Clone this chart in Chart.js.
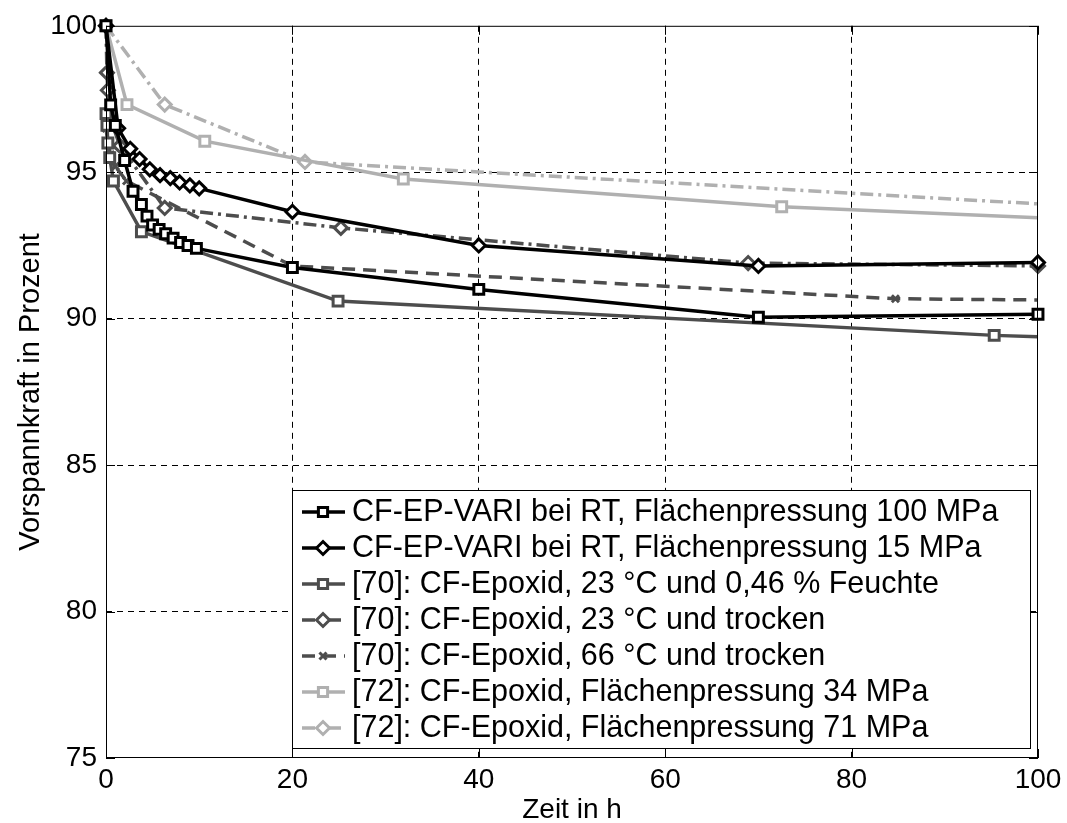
<!DOCTYPE html>
<html>
<head>
<meta charset="utf-8">
<script src="https://cdn.jsdelivr.net/npm/chart.js@4.4.1/dist/chart.umd.min.js"></script>
<style>
    html, body { margin: 0; padding: 0; background: #fff; }
    canvas { display: block; }
</style>
</head>
<body>
<canvas id="relaxChart" width="1067" height="823"></canvas>
<script>
// Values (Zeit in h / Vorspannkraft in %)
const seriesLabels = [
    "CF-EP-VARI bei RT, Flächenpressung 100 MPa",
    "CF-EP-VARI bei RT, Flächenpressung 15 MPa",
    "[70]: CF-Epoxid, 23 °C und 0,46 % Feuchte",
    "[70]: CF-Epoxid, 23 °C und trocken",
    "[70]: CF-Epoxid, 66 °C und trocken",
    "[72]: CF-Epoxid, Flächenpressung 34 MPa",
    "[72]: CF-Epoxid, Flächenpressung 71 MPa",
];

const vari100X = [0, 0.5, 1, 2, 2.9, 3.8, 4.4, 5.0, 5.7, 6.4, 7.2, 8.0, 8.8, 9.7, 20, 40, 70, 100];
const vari100Y = [100, 97.3, 96.6, 95.4, 94.35, 93.9, 93.5, 93.2, 93.05, 92.9, 92.75, 92.6, 92.5, 92.4, 91.75, 91.0, 90.05, 90.15];

const vari15X = [0, 1.3, 2.6, 3.6, 4.7, 5.8, 6.9, 7.9, 9.0, 10.0, 20, 40, 70, 100];
const vari15Y = [100, 96.5, 95.8, 95.45, 95.1, 94.9, 94.8, 94.65, 94.55, 94.45, 93.65, 92.5, 91.8, 91.92];

const feuchteX = [0, 0.1, 0.2, 0.4, 0.8, 3.8, 24.9, 95.3, 100];
const feuchteY = [97.0, 96.6, 96.0, 95.5, 94.7, 92.97, 90.6, 89.43, 89.38];

const trocken23X = [0, 0.1, 0.2, 0.5, 1.5, 6.3, 25.2, 68.9, 100];
const trocken23Y = [100, 98.4, 97.8, 96.8, 95.9, 93.78, 93.1, 91.9, 91.8];

const trocken66X = [0, 0.2, 0.5, 1, 2.2, 20, 84.7, 100];
const trocken66Y = [96.5, 96.0, 95.6, 95.2, 94.7, 91.8, 90.68, 90.64];

const mpa34X = [0, 2.25, 10.6, 31.9, 72.5, 100];
const mpa34Y = [100, 97.31, 96.06, 94.77, 93.82, 93.45];

const mpa71X = [0, 6.3, 21.35, 100];
const mpa71Y = [100, 97.31, 95.35, 93.92];

const xTickValues = [0, 20, 40, 60, 80, 100];
const yTickValues = [75, 80, 85, 90, 95, 100];

const BLACK = "#000000";
const DARK = "#4d4d4d";
const LIGHT = "#b0b0b0";
const FONT = "'Liberation Sans', Arial, sans-serif";

function toPoints(xs, ys) {
    return xs.map(function (x, i) { return { x: x, y: ys[i] }; });
}

function makeSet(idx, xs, ys, color, dash, style, radius, hideLast) {
    return {
        label: seriesLabels[idx],
        data: toPoints(xs, ys),
        borderColor: color,
        backgroundColor: color,
        borderWidth: 3.5,
        borderDash: dash,
        pointStyle: style,
        pointRadius: function (ctx) {
            return hideLast && ctx.dataIndex === xs.length - 1 ? 0 : radius;
        },
        pointBorderColor: color,
        pointBackgroundColor: style === "crossRot" ? color : "#ffffff",
        pointBorderWidth: 3,
        tension: 0,
        clip: false,
    };
}

const datasets = [
    makeSet(0, vari100X, vari100Y, BLACK, [], "rect", 7, false),
    makeSet(1, vari15X, vari15Y, BLACK, [], "rectRot", 6.5, false),
    makeSet(2, feuchteX, feuchteY, DARK, [], "rect", 7, true),
    makeSet(3, trocken23X, trocken23Y, DARK, [13, 5, 3, 5], "rectRot", 6.5, false),
    makeSet(4, trocken66X, trocken66Y, DARK, [13, 8], "crossRot", 5, true),
    makeSet(5, mpa34X, mpa34Y, LIGHT, [], "rect", 7, true),
    makeSet(6, mpa71X, mpa71Y, LIGHT, [13, 5, 3, 5], "rectRot", 6.5, true),
];

// frame with inward ticks (matlab style) and the boxed legend inside the plot
const framePlugin = {
    id: "frame",
    afterDatasetsDraw(chart) {
        const ctx = chart.ctx;
        const a = chart.chartArea;
        const sx = chart.scales.x;
        const sy = chart.scales.y;
        ctx.save();
        ctx.strokeStyle = "#000";
        ctx.lineWidth = 1;
        ctx.setLineDash([]);
        ctx.strokeRect(a.left + 0.5, a.top + 0.5, a.right - a.left - 1, a.bottom - a.top - 1);
        ctx.beginPath();
        xTickValues.forEach(function (v) {
            const px = Math.round(sx.getPixelForValue(v)) + 0.5;
            ctx.moveTo(px, a.bottom);
            ctx.lineTo(px, a.bottom - 9);
            ctx.moveTo(px, a.top);
            ctx.lineTo(px, a.top + 9);
        });
        yTickValues.forEach(function (v) {
            const py = Math.round(sy.getPixelForValue(v)) + 0.5;
            ctx.moveTo(a.left, py);
            ctx.lineTo(a.left + 9, py);
            ctx.moveTo(a.right, py);
            ctx.lineTo(a.right - 9, py);
        });
        ctx.stroke();

        // legend box
        const box = { left: 292, top: 490, right: 1030, bottom: 748 };
        ctx.fillStyle = "#fff";
        ctx.fillRect(box.left, box.top, box.right - box.left, box.bottom - box.top);
        ctx.strokeRect(box.left + 0.5, box.top + 0.5, box.right - box.left, box.bottom - box.top);

        ctx.font = "30.5px " + FONT;
        ctx.textBaseline = "middle";
        ctx.textAlign = "left";
        chart.data.datasets.forEach(function (ds, i) {
            const y = 512 + i * 36;
            ctx.strokeStyle = ds.borderColor;
            ctx.lineWidth = 3.5;
            ctx.setLineDash(ds.borderDash);
            ctx.beginPath();
            ctx.moveTo(302, y);
            ctx.lineTo(345, y);
            ctx.stroke();
            ctx.setLineDash([]);
            ctx.fillStyle = ds.pointBackgroundColor;
            ctx.lineWidth = ds.pointBorderWidth;
            Chart.helpers.drawPoint(ctx, {
                pointStyle: ds.pointStyle,
                radius: ds.pointStyle === "crossRot" ? 5 : 6.5,
                rotation: 0,
                borderWidth: ds.pointBorderWidth,
            }, 323, y);
            ctx.fillStyle = "#000";
            ctx.fillText(ds.label, 352, y + 1);
        });
        ctx.restore();
    },
};

function edgeHidden(ctx) {
    const v = ctx.tick ? ctx.tick.value : null;
    return (v === ctx.scale.min || v === ctx.scale.max) ? "rgba(0,0,0,0)" : "#000";
}

new Chart(document.getElementById("relaxChart"), {
    type: "line",
    data: { datasets: datasets },
    options: {
        responsive: false,
        animation: false,
        layout: { padding: { top: 21, right: 29, left: 0, bottom: 0 } },
        plugins: {
            legend: { display: false },
            tooltip: { enabled: false },
        },
        scales: {
            x: {
                type: "linear",
                min: 0,
                max: 100,
                afterFit: function (s) { s.height = 65; },
                afterBuildTicks: function (s) {
                    s.ticks = xTickValues.map(function (v) { return { value: v }; });
                },
                grid: { color: edgeHidden, lineWidth: 1, drawTicks: false },
                border: { display: false, dash: [6, 5] },
                ticks: {
                    color: "#000",
                    font: { family: FONT, size: 28 },
                    padding: 5,
                    maxRotation: 0,
                },
                title: {
                    display: true,
                    text: "Zeit in h",
                    color: "#000",
                    font: { family: FONT, size: 28, lineHeight: 1 },
                    padding: { top: 0, bottom: -1 },
                },
            },
            y: {
                min: 75,
                max: 100,
                afterFit: function (s) { s.width = 106; },
                afterBuildTicks: function (s) {
                    s.ticks = yTickValues.map(function (v) { return { value: v }; });
                },
                grid: { color: edgeHidden, lineWidth: 1, drawTicks: false },
                border: { display: false, dash: [6, 5] },
                ticks: {
                    color: "#000",
                    font: { family: FONT, size: 28 },
                    padding: 9,
                },
                title: {
                    display: true,
                    text: "Vorspannkraft in Prozent",
                    color: "#000",
                    font: { family: FONT, size: 29, lineHeight: 1 },
                    padding: { top: 16, bottom: 0 },
                },
            },
        },
    },
    plugins: [framePlugin],
});
</script>
</body>
</html>
